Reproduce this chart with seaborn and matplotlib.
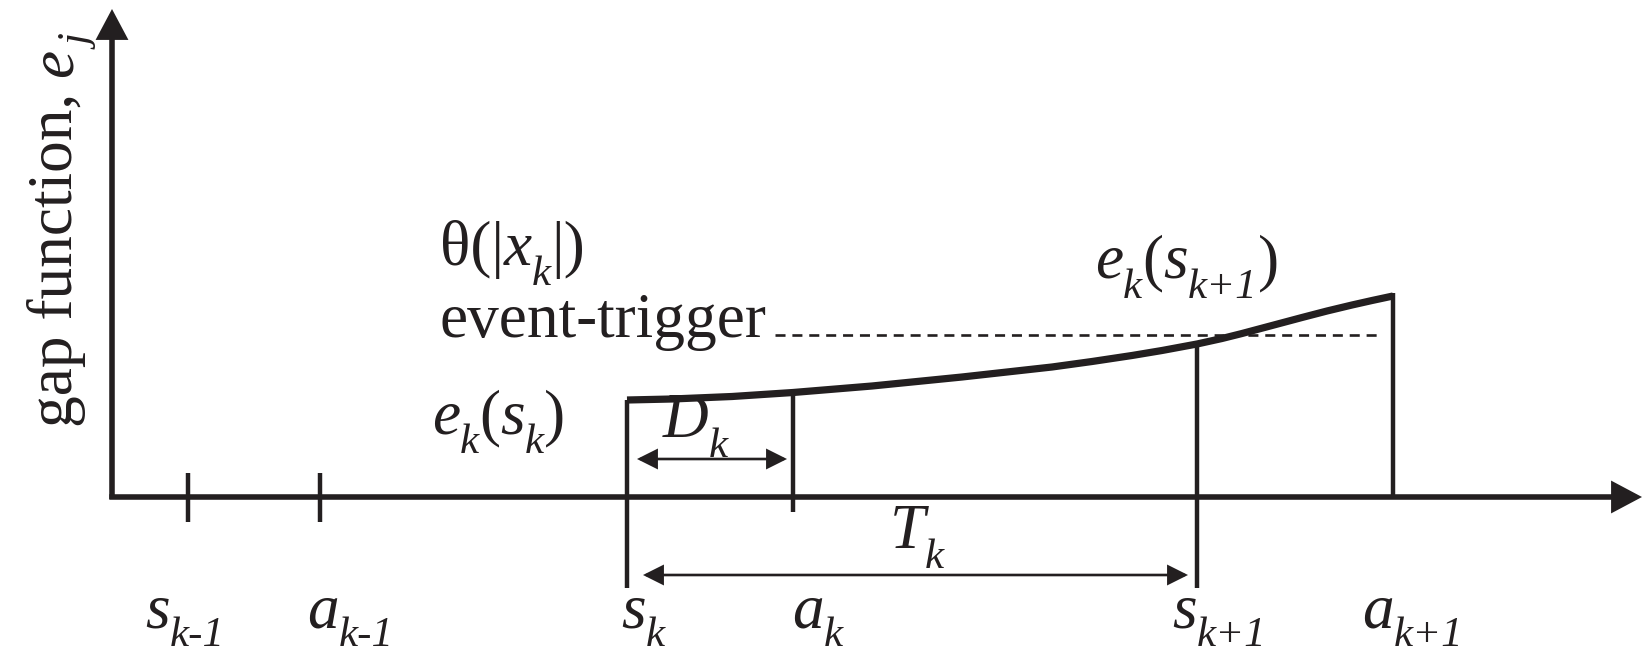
import numpy as np
import matplotlib
matplotlib.use("Agg")
import matplotlib.pyplot as plt
import matplotlib.transforms as mtransforms
from matplotlib.patches import FancyArrowPatch
import seaborn as sns

# ---- data -------------------------------------------------------------
# sampling / actuation instants on the time axis: (symbol, index)
event_symbols = ["s", "a", "s", "a", "s", "a"]
event_indices = ["k-1", "k-1", "k", "k", "k+1", "k+1"]
event_times = [0.76, 2.08, 5.15, 6.81, 10.85, 12.81]

# gap function e_k(t) between s_k and a_{k+1}
gap_t = [5.15, 5.6, 6.2, 6.81, 7.6, 8.5, 9.4, 9.8, 10.2, 10.5, 10.85,
         11.1, 11.3, 11.6, 11.9, 12.15, 12.4, 12.6, 12.81]
gap_e = [0.97, 0.98, 1.005, 1.045, 1.11, 1.20, 1.30, 1.355, 1.415, 1.465, 1.53,
         1.585, 1.635, 1.715, 1.795, 1.86, 1.92, 1.965, 2.01]

# event-trigger threshold theta(|x_k|)
threshold = 1.62

# ---- style ------------------------------------------------------------
sns.set_theme(style="white")
ink = "#231f20"
plt.rcParams["font.family"] = ["Liberation Serif", "DejaVu Serif"]
FS = 45.5          # main glyph size (pt)
SUB = 0.68         # subscript scale
DROP = 14.4        # subscript baseline drop (pt)
DPI = 100

fig = plt.figure(figsize=(16.44, 6.54), dpi=DPI)
ax = fig.add_axes([0, 0, 1, 1])
ax.set_xlim(-1.12, 15.32)
ax.set_ylim(-1.57, 4.97)
ax.axis("off")
renderer = fig.canvas.get_renderer()


def advance(s, size, italic):
    """Advance width of a string in points (spaces included)."""
    style = "italic" if italic else "normal"

    def w(txt):
        t = fig.text(0, 0, txt, fontsize=size, style=style)
        width = t.get_window_extent(renderer).width
        t.remove()
        return width
    return (w("|" + s + "|") - w("||")) * 72.0 / DPI


def rich(x, y, parts, rotation=0, z=1, drop=DROP):
    """Write a run of (text, italic, subscript) pieces starting at (x, y)."""
    cursor = 0.0
    for s, italic, sub in parts:
        size = FS * SUB if sub else FS
        d = drop if sub else 0.0
        if rotation == 0:
            dx, dy = cursor, -d
        else:
            dx, dy = d, cursor
        tr = mtransforms.offset_copy(ax.transData, fig=fig, x=dx, y=dy, units="points")
        ax.text(x, y, s, transform=tr, fontsize=size,
                style="italic" if italic else "normal", color=ink,
                ha="left", va="baseline", rotation=rotation,
                rotation_mode="anchor", zorder=z)
        cursor += advance(s, size, italic)


def arrow(p0, p1, style, lw, ms, z=3):
    a = FancyArrowPatch(p0, p1, arrowstyle=style, mutation_scale=ms,
                        color=ink, lw=lw, shrinkA=0, shrinkB=0, zorder=z,
                        joinstyle="miter", capstyle="butt")
    ax.add_patch(a)


# coordinate axes with arrow heads
arrow((0, -0.02), (0, 4.88), "-|>,head_length=1.6,head_width=0.85", 4.0, 10)
arrow((-0.027, 0), (15.30, 0), "-|>,head_length=1.6,head_width=0.85", 4.0, 10)

# gap function curve
sns.lineplot(x=gap_t, y=gap_e, ax=ax, color=ink, lw=5.2, sort=True,
             estimator=None, zorder=5, solid_capstyle="butt",
             solid_joinstyle="round")

# threshold level
ax.plot([6.63, 12.71], [threshold, threshold], color=ink, lw=1.9,
        linestyle=(0, (3.8, 2.6)), zorder=2)

# vertical markers at the events
t_sk, t_ak, t_sk1, t_ak1 = event_times[2:]
vline = dict(color=ink, lw=3.2, solid_capstyle="butt", zorder=4)
ax.plot([t_sk, t_sk], [-0.91, np.interp(t_sk, gap_t, gap_e)], **vline)
ax.plot([t_ak, t_ak], [-0.15, np.interp(t_ak, gap_t, gap_e)], **vline)
ax.plot([t_sk1, t_sk1], [-0.91, np.interp(t_sk1, gap_t, gap_e)], **vline)
ax.plot([t_ak1, t_ak1], [0, np.interp(t_ak1, gap_t, gap_e) + 0.03], **vline)
for t in event_times[:2]:
    ax.plot([t, t], [-0.25, 0.24], **vline)

# interval arrows D_k and T_k
arrow((t_sk + 0.10, 0.38), (t_ak - 0.06, 0.38), "<|-|>,head_length=1.2,head_width=0.6", 1.9, 10)
arrow((t_sk + 0.16, -0.78), (t_sk1 - 0.09, -0.78), "<|-|>,head_length=1.2,head_width=0.6", 1.9, 10)

# labels under the time axis
label_shift = [-0.43, -0.13, -0.06, -0.01, -0.25, -0.31]
for sym, idx, t, dx in zip(event_symbols, event_indices, event_times, label_shift):
    rich(t + dx, -1.31, [(sym, True, False), (idx, True, True)], drop=12.6)

# annotations
rich(3.28, 2.32, [("θ(|", False, False), ("x", True, False), ("k", True, True),
                  ("|)", False, False)])
rich(3.28, 1.60, [("event-trigger", False, False)])
rich(3.20, 0.64, [("e", True, False), ("k", True, True), ("(", False, False),
                  ("s", True, False), ("k", True, True), (")", False, False)])
rich(5.51, 0.60, [("D", True, False), ("k", True, True)])
rich(7.78, -0.51, [("T", True, False), ("k", True, True)])
rich(9.83, 2.19, [("e", True, False), ("k", True, True), ("(", False, False),
                  ("s", True, False), ("k+1", True, True), (")", False, False)])

# vertical axis title
rich(-0.40, 0.70, [("gap function, ", False, False), ("e", True, False),
                   ("j", True, True)], rotation=90)

fig.savefig("out.png", dpi=DPI)
